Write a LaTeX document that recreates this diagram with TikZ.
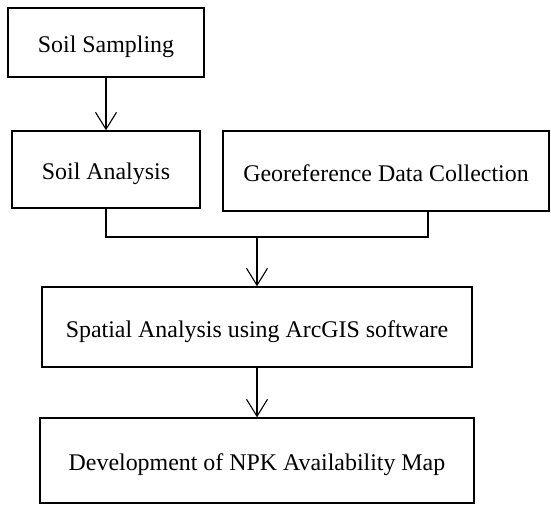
\documentclass[tikz,border=0pt]{standalone}
\usepackage{fontspec}
\setmainfont{Liberation Serif}
\usetikzlibrary{arrows.meta}
\begin{document}
\begin{tikzpicture}[x=0.5pt,y=-0.5pt,
  box/.style={draw,line width=0.7pt,inner sep=0pt,text height=10pt,text depth=0pt,font=\fontsize{11.95pt}{14pt}\selectfont},
  arr/.style={line width=0.55pt,-{Straight Barb[length=8.5pt,width=10.5pt,line width=0.55pt]}},
  bracket/.style={line width=1.1pt}]
\useasboundingbox (0,0) rectangle (551,504);
\node[box,minimum width=98pt,minimum height=34.5pt] (ss) at (106,42.5) {Soil Sampling};
\node[box,minimum width=94pt,minimum height=38.5pt] (sa) at (106,169.5) {Soil Analysis};
\node[box,minimum width=163pt,minimum height=40pt] (geo) at (386,171) {Georeference Data Collection};
\node[box,minimum width=215pt,minimum height=40pt] (sp) at (257,327) {Spatial Analysis using ArcGIS software};
\node[box,minimum width=217pt,minimum height=42.5pt] (dev) at (257,460.5) {Development of NPK Availability Map};
\coordinate (j2) at (428,237);
\coordinate (jm) at (257,237);
\draw[arr] (ss.south) -- (sa.north);
\draw[bracket] (sa.south) |- (j2) -- (j2 |- geo.south);
\draw[arr] (jm) -- (sp.north);
\draw[arr] (sp.south) -- (dev.north);
\end{tikzpicture}
\end{document}
